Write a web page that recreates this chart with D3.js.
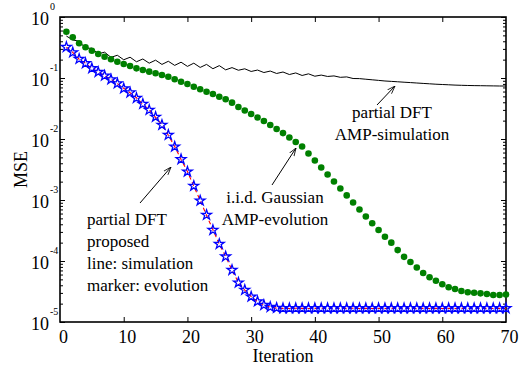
<!DOCTYPE html>
<html>
<head>
<meta charset="utf-8">
<script src="https://cdn.jsdelivr.net/npm/d3@7"></script>
<style>
  body { margin: 0; background: #fff; }
  text { font-family: "Liberation Serif", "Times New Roman", serif; fill: #000; }
</style>
</head>
<body>
<svg id="chart" width="526" height="370"></svg>
<script>
// iterations 1..70
const iterations = d3.range(1, 71);

// partial DFT, AMP-simulation (black line)
const dftAmpSim = [
  0.488, 0.420, 0.401, 0.307, 0.308, 0.249, 0.265, 0.218, 0.236, 0.199,
  0.219, 0.1845, 0.205, 0.175, 0.196, 0.167, 0.188, 0.161, 0.1816, 0.155,
  0.175, 0.149, 0.167, 0.142, 0.1595, 0.136, 0.148, 0.134, 0.1415, 0.128,
  0.135, 0.123, 0.130, 0.1186, 0.1254, 0.114, 0.121, 0.110, 0.117, 0.107,
  0.1116, 0.106, 0.1082, 0.1026, 0.1042, 0.0981, 0.0977, 0.0955, 0.0934, 0.0914,
  0.0893, 0.0880, 0.0867, 0.0853, 0.0841, 0.0828, 0.0815, 0.0803, 0.0791, 0.0782,
  0.0774, 0.0765, 0.0759, 0.0754, 0.0750, 0.0748, 0.0745, 0.0742, 0.0739, 0.0739
];

// i.i.d. Gaussian, AMP-evolution (green dots)
const gaussAmpEvo = [
  0.574, 0.465, 0.371, 0.319, 0.280, 0.247, 0.223, 0.203, 0.185, 0.170,
  0.157, 0.144, 0.135, 0.127, 0.1194, 0.112, 0.105, 0.0952, 0.0869, 0.0798,
  0.0720, 0.0653, 0.0596, 0.0547, 0.0493, 0.0448, 0.0394, 0.0335, 0.0293, 0.0257,
  0.0225, 0.0197, 0.0170, 0.0146, 0.0125, 0.0106, 0.00893, 0.00754, 0.00578, 0.00444,
  0.00341, 0.00262, 0.00201, 0.00154, 0.00119, 0.000910, 0.000698, 0.000537, 0.000415, 0.000322,
  0.000250, 0.000200, 0.000151, 0.000117, 9.63e-5, 7.82e-5, 6.36e-5, 5.41e-5, 4.75e-5, 4.15e-5,
  3.71e-5, 3.47e-5, 3.22e-5, 3.07e-5, 3.02e-5, 2.95e-5, 2.88e-5, 2.77e-5, 2.77e-5, 2.82e-5
];

// partial DFT, proposed, evolution (blue stars)
const proposedEvo = [
  0.322, 0.262, 0.205, 0.174, 0.144, 0.125, 0.109, 0.0948, 0.0813, 0.0673,
  0.0578, 0.0470, 0.0375, 0.0299, 0.0230, 0.0170, 0.01164, 0.00748, 0.00465, 0.00291,
  0.00170, 0.000975, 0.000568, 0.000322, 0.000190, 0.000118, 7.12e-5, 4.41e-5, 3.35e-5, 2.60e-5,
  2.17e-5, 1.90e-5, 1.76e-5, 1.70e-5, 1.68e-5, 1.68e-5, 1.68e-5, 1.68e-5, 1.68e-5, 1.68e-5,
  1.68e-5, 1.68e-5, 1.68e-5, 1.68e-5, 1.68e-5, 1.68e-5, 1.68e-5, 1.68e-5, 1.68e-5, 1.68e-5,
  1.68e-5, 1.68e-5, 1.68e-5, 1.68e-5, 1.68e-5, 1.68e-5, 1.68e-5, 1.68e-5, 1.68e-5, 1.68e-5,
  1.68e-5, 1.68e-5, 1.68e-5, 1.68e-5, 1.68e-5, 1.68e-5, 1.68e-5, 1.68e-5, 1.68e-5, 1.68e-5
];

// partial DFT, proposed, simulation (red dashed line)
const proposedSim = [
  0.320, 0.264, 0.203, 0.175, 0.143, 0.126, 0.108, 0.0955, 0.0808, 0.0678,
  0.0572, 0.0474, 0.0371, 0.0302, 0.0227, 0.0172, 0.01150, 0.00756, 0.00460, 0.00294,
  0.00168, 0.000985, 0.000561, 0.000326, 0.000188, 0.000119, 7.05e-5, 4.45e-5, 3.32e-5, 2.62e-5,
  2.15e-5, 1.91e-5, 1.75e-5, 1.69e-5, 1.67e-5, 1.66e-5, 1.68e-5, 1.67e-5, 1.66e-5, 1.67e-5,
  1.68e-5, 1.66e-5, 1.67e-5, 1.66e-5, 1.67e-5, 1.68e-5, 1.66e-5, 1.67e-5, 1.66e-5, 1.67e-5,
  1.66e-5, 1.67e-5, 1.68e-5, 1.66e-5, 1.67e-5, 1.66e-5, 1.67e-5, 1.66e-5, 1.67e-5, 1.66e-5,
  1.67e-5, 1.66e-5, 1.67e-5, 1.66e-5, 1.67e-5, 1.66e-5, 1.67e-5, 1.66e-5, 1.67e-5, 1.66e-5
];

const xTicks = [0, 10, 20, 30, 40, 50, 60, 70];
const yDecades = [1e-5, 1e-4, 1e-3, 1e-2, 1e-1, 1];
const yExponents = ["-5", "-4", "-3", "-2", "-1", "0"];

const svg = d3.select("#chart");
const width = +svg.attr("width");
const height = +svg.attr("height");
const margin = {top: 17, right: 20, bottom: 48, left: 60};
const innerWidth = width - margin.left - margin.right;
const innerHeight = height - margin.top - margin.bottom;

const chart = svg.append("g")
    .attr("transform", "translate(" + margin.left + "," + margin.top + ")");

const x = d3.scaleLinear().domain([0, 70]).range([0, innerWidth]);
const y = d3.scaleLog().domain([1e-5, 1]).range([innerHeight, 0]);

// minor ticks on the log axis
const yMinor = [];
yDecades.slice(0, -1).forEach(d => {
    for (let m = 2; m <= 9; m++) yMinor.push(d * m);
});

chart.append("defs").append("clipPath").attr("id", "plotclip")
    .append("rect").attr("width", innerWidth).attr("height", innerHeight);

// axes: ticks inward, labels drawn separately
function ticksOnly(g) {
    g.select(".domain").remove();
    g.selectAll(".tick text").remove();
    g.selectAll(".tick line").attr("stroke", "#000").attr("stroke-width", 1);
}

chart.append("g")
    .attr("transform", "translate(0," + innerHeight + ")")
    .call(d3.axisBottom(x).tickValues(xTicks.slice(1, -1)).tickSize(-5))
    .call(ticksOnly);

chart.append("g")
    .call(d3.axisTop(x).tickValues(xTicks.slice(1, -1)).tickSize(-5))
    .call(ticksOnly);

chart.append("g")
    .call(d3.axisLeft(y).tickValues(yDecades).tickSize(-5))
    .call(ticksOnly);

chart.append("g")
    .call(d3.axisLeft(y).tickValues(yMinor).tickSize(-3))
    .call(ticksOnly);

chart.append("g")
    .attr("transform", "translate(" + innerWidth + ",0)")
    .call(d3.axisRight(y).tickValues(yDecades).tickSize(-5))
    .call(ticksOnly);

chart.append("g")
    .attr("transform", "translate(" + innerWidth + ",0)")
    .call(d3.axisRight(y).tickValues(yMinor).tickSize(-3))
    .call(ticksOnly);

// frame
chart.append("rect")
    .attr("width", innerWidth).attr("height", innerHeight)
    .attr("fill", "none").attr("stroke", "#000").attr("stroke-width", 1.6);

// series
const line = d3.line().x((d, i) => x(iterations[i])).y(d => y(d));

chart.append("path")
    .datum(dftAmpSim)
    .attr("clip-path", "url(#plotclip)")
    .attr("d", line)
    .attr("fill", "none").attr("stroke", "#000").attr("stroke-width", 1);

chart.append("path")
    .datum(proposedSim)
    .attr("clip-path", "url(#plotclip)")
    .attr("d", line)
    .attr("fill", "none").attr("stroke", "#ff0000").attr("stroke-width", 1.1)
    .attr("stroke-dasharray", "4,3");

chart.selectAll(".dot")
    .data(gaussAmpEvo)
    .enter()
    .append("circle")
        .attr("cx", (d, i) => x(iterations[i]))
        .attr("cy", d => y(d))
        .attr("r", 3.3)
        .attr("fill", "#008000");

const star = d3.symbol().type(d3.symbolStar).size(30);
chart.selectAll(".star")
    .data(proposedEvo)
    .enter()
    .append("path")
        .attr("d", star)
        .attr("transform", (d, i) => "translate(" + x(iterations[i]) + "," + y(d) + ")")
        .attr("fill", "none")
        .attr("stroke", "#0000ff")
        .attr("stroke-width", 1.3);

// annotations
svg.append("defs").append("marker")
    .attr("id", "arrow")
    .attr("viewBox", "0 0 10 10")
    .attr("refX", 10).attr("refY", 5)
    .attr("markerWidth", 8).attr("markerHeight", 8)
    .attr("orient", "auto")
  .append("path")
    .attr("d", "M0,1.5 L10,5 L0,8.5")
    .attr("fill", "none").attr("stroke", "#000").attr("stroke-width", 1);

function arrow(x1, y1, x2, y2) {
    svg.append("line")
        .attr("x1", x1).attr("y1", y1).attr("x2", x2).attr("y2", y2)
        .attr("stroke", "#000").attr("stroke-width", 1)
        .attr("marker-end", "url(#arrow)");
}

arrow(377, 105, 395, 86);
arrow(272, 185, 296, 148);
arrow(140, 203, 171, 167);

// texts on top
const texts = svg.append("g");

// x tick labels
xTicks.forEach(d => {
    texts.append("text")
        .attr("x", margin.left + x(d) + 3.5).attr("y", 343)
        .attr("text-anchor", "middle")
        .style("font-size", "18px")
        .text(d);
});

// y tick labels: "10" with the exponent raised to its upper right
yDecades.forEach((d, i) => {
    const ty = margin.top + y(d);
    texts.append("text")
        .attr("x", margin.left - 11).attr("y", ty + 8)
        .attr("text-anchor", "end")
        .style("font-size", "18px")
        .text("10");
    texts.append("text")
        .attr("x", margin.left - 10).attr("y", ty - 7.5)
        .style("font-size", "10px")
        .text(yExponents[i]);
});

texts.append("text")
    .attr("x", margin.left + innerWidth / 2).attr("y", 362)
    .attr("text-anchor", "middle")
    .style("font-size", "18px")
    .text("Iteration");

texts.append("text")
    .attr("transform", "translate(27," + (margin.top + innerHeight / 2) + ") rotate(-90)")
    .attr("text-anchor", "middle")
    .style("font-size", "18px")
    .text("MSE");

function label(lines, xPos, yPos, anchor) {
    const t = texts.append("text")
        .attr("text-anchor", anchor)
        .style("font-size", "17px");
    lines.forEach((s, i) => {
        t.append("tspan").attr("x", xPos).attr("y", yPos + i * 22).text(s);
    });
}

label(["partial DFT", "AMP-simulation"], 392, 118, "middle");
label(["i.i.d. Gaussian", "AMP-evolution"], 275, 203, "middle");
label(["partial DFT", "proposed", "line: simulation", "marker: evolution"], 87, 225, "start");
</script>
</body>
</html>
